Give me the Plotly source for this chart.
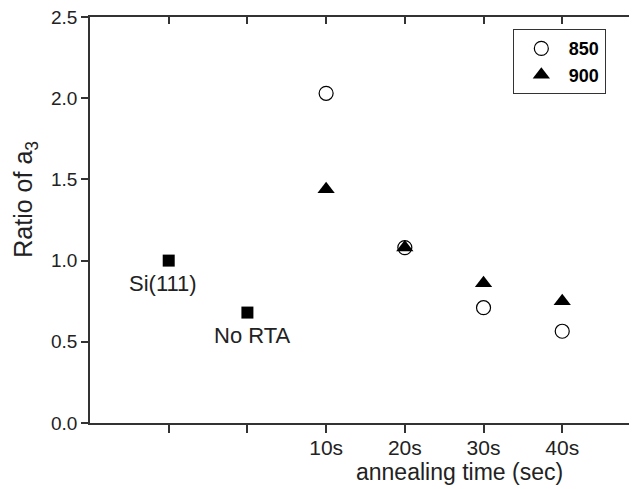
import plotly.graph_objects as go

# reference samples
ref_x = [1, 2]
ref_y = [1.0, 0.68]
ref_labels = ["Si(111)", "No RTA"]

# annealing series
anneal_x = [3, 4, 5, 6]
tick_vals = [1, 2, 3, 4, 5, 6]
tick_text = ["", "", "10s", "20s", "30s", "40s"]
y_ticks = [0, 0.5, 1.0, 1.5, 2.0, 2.5]
y850 = [2.03, 1.08, 0.71, 0.565]
y900 = [1.44, 1.08, 0.86, 0.75]

x_title = "annealing time (sec)"
y_title = "Ratio of a<sub>3</sub>"

FONT = "Liberation Sans, Arial, sans-serif"
xr = [0, 6.95]
yr = [0, 2.5]

fig = go.Figure()
fig.add_trace(go.Scatter(x=ref_x, y=ref_y, mode="markers", showlegend=False,
                         marker=dict(symbol="square", size=12, color="black")))
fig.add_trace(go.Scatter(x=anneal_x, y=y850, mode="markers", name="850",
                         marker=dict(symbol="circle-open", size=14, color="black",
                                     line=dict(width=1.2, color="black"))))
fig.add_trace(go.Scatter(x=anneal_x, y=y900, mode="markers", name="900",
                         marker=dict(symbol="triangle-up", size=15, color="black")))
# invisible trace for mirrored axes
fig.add_trace(go.Scatter(x=[xr[0]], y=[yr[0]], xaxis="x2", yaxis="y2", mode="markers",
                         marker=dict(opacity=0), showlegend=False, hoverinfo="skip"))

for xv, yv, t in zip(ref_x, ref_y, ref_labels):
    fig.add_annotation(x=xv, y=yv, text=t, showarrow=False, xanchor="center",
                       yanchor="top", yshift=-8, xshift=-6 if t == "Si(111)" else 5,
                       font=dict(family=FONT, size=22, color="#222"))

# axis titles
fig.add_annotation(xref="paper", yref="paper", x=0.676, y=0, yshift=-49,
                   xanchor="center", yanchor="middle", text=x_title, showarrow=False,
                   font=dict(family=FONT, size=23, color="#222"))
fig.add_annotation(xref="paper", yref="paper", x=0, xshift=-65, y=0.55,
                   xanchor="center", yanchor="middle", text=y_title, showarrow=False,
                   textangle=-90, font=dict(family=FONT, size=25, color="#222"))

fig.update_layout(
    width=629, height=481,
    margin=dict(l=82, r=0, t=9, b=66),
    plot_bgcolor="white", paper_bgcolor="white",
    font=dict(family=FONT, size=20, color="#222"),
    xaxis=dict(range=xr, tickvals=tick_vals, ticktext=tick_text, ticks="outside",
               ticklen=8, tickwidth=1.5, tickcolor="#333", showline=True, linecolor="#333",
               linewidth=1.5, showgrid=False, zeroline=False, automargin=False,
               tickfont=dict(size=21), ticklabelstandoff=-3, ticklabeloverflow="allow"),
    yaxis=dict(range=yr, tickvals=y_ticks, tickformat=".1f",
               ticks="outside", ticklen=7, tickwidth=1.5, tickcolor="#333",
               showline=True, linecolor="#333", linewidth=1.5, showgrid=False,
               zeroline=False, automargin=False, tickfont=dict(size=19),
               ticklabeloverflow="allow"),
    xaxis2=dict(range=xr, overlaying="x", side="top", tickvals=tick_vals, ticks="inside",
                ticklen=7, tickwidth=1.5, tickcolor="#333", showticklabels=False,
                showline=True, linecolor="#333", linewidth=1.5, showgrid=False,
                zeroline=False, automargin=False),
    yaxis2=dict(range=yr, overlaying="y", side="right", tickvals=y_ticks,
                ticks="inside", ticklen=7, tickwidth=1.5, tickcolor="#333",
                showticklabels=False, showline=True, linecolor="#333", linewidth=1.5,
                showgrid=False, zeroline=False, automargin=False),
    legend=dict(x=0.773, y=0.970, xanchor="left", yanchor="top",
                bordercolor="#333", borderwidth=1, bgcolor="white",
                font=dict(family=FONT, size=18, color="black", weight="bold"),
                itemwidth=45, tracegroupgap=0),
)

fig.write_html("out.html")
